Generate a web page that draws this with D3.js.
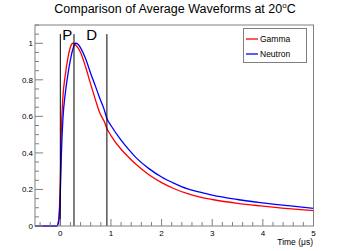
<!DOCTYPE html>
<html><head><meta charset="utf-8">
<script src="https://cdn.jsdelivr.net/npm/d3@7"></script>
<style>body{margin:0;background:#fff}svg{display:block}text{font-family:"Liberation Sans",Arial,sans-serif}</style>
</head><body>
<script>
const times   = [-0.5,-0.3,-0.1,-0.07,-0.04,-0.02,0,0.02,0.05,0.1,0.15,0.2,0.25,0.3,0.35,0.4,0.5,0.6,0.7,0.77,0.87,0.92,1.0,1.2,1.34,1.5,1.75,2.0,2.25,2.5,2.76,3.0,3.5,3.95,4.5,5.0];
const gamma   = [0,0,0,0.0,0.02,0.08,0.25,0.52,0.70,0.83,0.92,0.98,1.0,0.99,0.975,0.95,0.87,0.775,0.685,0.625,0.57,0.534,0.495,0.42,0.379,0.336,0.28,0.237,0.204,0.178,0.158,0.145,0.124,0.110,0.095,0.084];
const neutron = [0,0,0,0.0,0.015,0.06,0.18,0.38,0.58,0.73,0.83,0.91,0.97,1.0,0.995,0.975,0.915,0.835,0.76,0.706,0.634,0.588,0.55,0.47,0.422,0.373,0.314,0.268,0.233,0.204,0.185,0.169,0.145,0.128,0.111,0.097];
const xTicks = [0,1,2,3,4,5];
const yTicks = [0,0.2,0.4,0.6,0.8,1];
const markers = [0,0.27,0.92];
const markerLabels = [{t:0.135,s:"P"},{t:0.62,s:"D"}];
const series = [{name:"Gamma",color:"#ff0000",vals:gamma},{name:"Neutron",color:"#0000ff",vals:neutron}];

const W=349,H=251;
const svg=d3.select("body").append("svg").attr("width",W).attr("height",H);
const x=d3.scaleLinear().domain([-0.5,5]).range([35,313.5]);
const y=d3.scaleLinear().domain([0,1.1]).range([226,25]);

// title
const title=svg.append("text").attr("x",175).attr("y",13).attr("text-anchor","middle").attr("font-size",12.5);
title.append("tspan").text("Comparison of Average Waveforms at 20");
title.append("tspan").attr("font-size",8).attr("dy",-5).text("o");
title.append("tspan").attr("dy",5).text("C");

// curves
const line=d3.line().x((d,i)=>x(times[i])).y(d=>y(d)).curve(d3.curveMonotoneX);
series.forEach(s=>{
  svg.append("path").attr("d",line(s.vals)).attr("fill","none").attr("stroke",s.color).attr("stroke-width",1.3);
});

// vertical marker lines
markers.forEach(m=>{
  svg.append("line").attr("x1",x(m)).attr("x2",x(m)).attr("y1",y(0)).attr("y2",y(1.05)).attr("stroke","#000").attr("stroke-width",1);
});
markerLabels.forEach(m=>{
  svg.append("text").attr("x",x(m.t)).attr("y",39.5).attr("text-anchor","middle").attr("font-size",15).text(m.s);
});

// frame
const fc="#808080";
svg.append("rect").attr("x",35).attr("y",25).attr("width",313.5-35).attr("height",226-25).attr("fill","none").attr("stroke",fc).attr("stroke-width",1);

// x ticks (inward)
const xMinor=d3.range(-0.4,5.01,0.2);
xMinor.forEach(t=>{
  const major=Math.abs(t-Math.round(t))<1e-6;
  svg.append("line").attr("x1",x(t)).attr("x2",x(t)).attr("y1",226).attr("y2",226-(major?7:4)).attr("stroke",fc);
});
xTicks.forEach(t=>{
  svg.append("text").attr("x",x(t)).attr("y",235.5).attr("text-anchor","middle").attr("font-size",8).text(t);
});
// y ticks
d3.range(0,1.101,0.05).forEach(v=>{
  const major=Math.abs(v*5-Math.round(v*5))<1e-6;
  svg.append("line").attr("x1",35).attr("x2",35+(major?8:4)).attr("y1",y(v)).attr("y2",y(v)).attr("stroke",fc);
});
yTicks.forEach(v=>{
  svg.append("text").attr("x",33).attr("y",y(v)+3).attr("text-anchor","end").attr("font-size",8).text(v);
});
svg.append("text").attr("x",313).attr("y",245).attr("text-anchor","end").attr("font-size",8.5).text("Time (μs)");

// legend
const lg=svg.append("g");
lg.append("rect").attr("x",243.5).attr("y",28.5).attr("width",63).attr("height",34).attr("fill","#fff").attr("stroke",fc);
series.forEach((s,i)=>{
  const yy=39+i*15;
  lg.append("line").attr("x1",246).attr("x2",258).attr("y1",yy).attr("y2",yy).attr("stroke",s.color).attr("stroke-width",1.3);
  lg.append("text").attr("x",260).attr("y",yy+3).attr("font-size",8.5).text(s.name);
});
</script>
</body></html>
